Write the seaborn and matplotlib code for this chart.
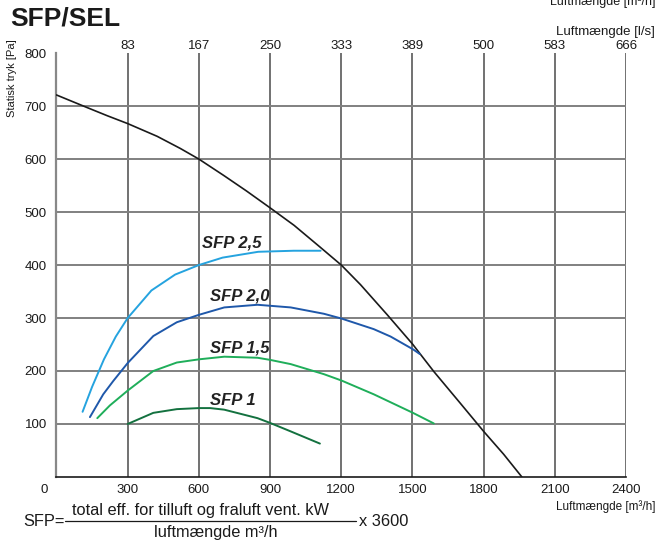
import matplotlib
matplotlib.use('Agg')
import matplotlib.pyplot as plt
from matplotlib.transforms import ScaledTranslation
import seaborn as sns

# fan curve (m3/h, Pa)
fan_x = [0, 114, 213, 300, 424, 522, 600, 705, 800, 900, 1001, 1113, 1200, 1281, 1394, 1500, 1590, 1700, 1800, 1884, 1961]
fan_y = [721, 700, 682, 667, 643, 620, 600, 569, 540, 508, 475, 433, 400, 363, 306, 251, 199, 140, 86, 43, 0]

# SFP iso-lines
sfp25_x = [110, 150, 200, 250, 300, 400, 500, 600, 700, 850, 1000, 1113]
sfp25_y = [123, 170, 222, 265, 300, 352, 382, 400, 414, 425, 427, 427]
sfp20_x = [141, 197, 239, 300, 408, 507, 600, 707, 847, 987, 1127, 1201, 1337, 1408, 1502, 1531]
sfp20_y = [113, 156, 181, 215, 266, 292, 306, 320, 325, 320, 308, 299, 279, 265, 241, 232]
sfp15_x = [172, 225, 300, 408, 507, 600, 707, 847, 900, 987, 1127, 1201, 1337, 1502, 1590]
sfp15_y = [111, 135, 163, 200, 216, 222, 227, 225, 221, 213, 194, 182, 156, 121, 101]
sfp10_x = [300, 408, 507, 600, 648, 707, 847, 900, 987, 1110]
sfp10_y = [100, 121, 128, 130, 130, 127, 111, 102, 86, 63]

sfp_labels = ['SFP 2,5', 'SFP 2,0', 'SFP 1,5', 'SFP 1']
sfp_label_x = [739, 773, 773, 744]
sfp_label_y = [441, 341, 243, 145]
sfp_colors = ['#25a3df', '#1f58aa', '#1fae5a', '#13713f']

x_ticks = [0, 300, 600, 900, 1200, 1500, 1800, 2100, 2400]
top_labels = ['83', '167', '250', '333', '389', '500', '583', '666']
y_ticks = [100, 200, 300, 400, 500, 600, 700, 800]

sns.set_theme(style='white')
plt.rcParams['font.family'] = ['Liberation Sans', 'DejaVu Sans']

fig = plt.figure(figsize=(6.59, 5.42), dpi=100)
ax = fig.add_axes([0.0857, 0.12, 0.8643, 0.782])

# grid
for x in x_ticks[1:]:
    ax.axvline(x, color='#4a4a4a', lw=1.1, zorder=1)
for y in y_ticks[:-1]:
    ax.axhline(y, color='#808080', lw=1.4, zorder=1)

sns.lineplot(x=fan_x, y=fan_y, ax=ax, color='#1a1a1a', lw=1.2, sort=False, estimator=None, zorder=3)
series = [(sfp25_x, sfp25_y), (sfp20_x, sfp20_y), (sfp15_x, sfp15_y), (sfp10_x, sfp10_y)]
for (sx, sy), c in zip(series, sfp_colors):
    sns.lineplot(x=sx, y=sy, ax=ax, color=c, lw=1.4, sort=False, estimator=None, zorder=3)

for lab, lx, ly in zip(sfp_labels, sfp_label_x, sfp_label_y):
    ax.text(lx, ly, lab, fontsize=12, fontweight='bold', fontstyle='italic',
            color='#222222', ha='center', va='center', zorder=4)

ax.set_xlim(0, 2400)
ax.set_ylim(0, 800)
ax.set_xticks(x_ticks)
ax.set_yticks(y_ticks)
ax.tick_params(axis='both', length=0, labelsize=9.5, colors='#1a1a1a')
ax.tick_params(axis='x', pad=5)
ax.tick_params(axis='y', pad=7)
# the "0" sits left of the corner
lbl0 = ax.get_xticklabels()[0]
lbl0.set_transform(lbl0.get_transform() + ScaledTranslation(-9 / 72, 0, fig.dpi_scale_trans))

for s in ['top', 'right']:
    ax.spines[s].set_visible(False)
ax.spines['left'].set_color('#888888')
ax.spines['left'].set_linewidth(1.6)
ax.spines['bottom'].set_color('#1a1a1a')
ax.spines['bottom'].set_linewidth(1.2)
ax.set_xlabel('')
ax.set_ylabel('')

top = ax.twiny()
top.set_xlim(0, 2400)
top.set_xticks(x_ticks[1:])
top.set_xticklabels(top_labels)
top.tick_params(axis='x', length=0, labelsize=9.5, pad=0.5, colors='#1a1a1a')
for s in top.spines.values():
    s.set_visible(False)

# texts
fig.text(10 / 659, 1 - 19 / 542, 'SFP/SEL', fontsize=19, fontweight='bold', ha='left', va='center', color='#1a1a1a')
fig.text(12 / 659, 1 - 78 / 542, 'Statisk tryk [Pa]', fontsize=8, rotation=90, ha='center', va='center', color='#1a1a1a')
fig.text(655 / 659, 1 - 2 / 542, 'Luftmængde [m³/h]', fontsize=9, ha='right', va='center', color='#1a1a1a')
fig.text(655 / 659, 1 - 32 / 542, 'Luftmængde [l/s]', fontsize=9.5, ha='right', va='center', color='#1a1a1a')
fig.text(655 / 659, 1 - 507 / 542, 'Luftmængde [m³/h]', fontsize=8.5, ha='right', va='center', color='#1a1a1a')

fig.text(23 / 659, 1 - 522 / 542, 'SFP=', fontsize=11.8, ha='left', va='center', color='#1a1a1a')
fig.text(200 / 659, 1 - 510 / 542, 'total eff. for tilluft og fraluft vent. kW', fontsize=11.8,
         ha='center', va='center', color='#1a1a1a')
fig.add_artist(plt.Line2D([65 / 659, 356 / 659], [1 - 521 / 542, 1 - 521 / 542], color='#1a1a1a', lw=0.9))
fig.text(359 / 659, 1 - 521 / 542, 'x 3600', fontsize=11.8, ha='left', va='center', color='#1a1a1a')
fig.text(216 / 659, 1 - 532 / 542, 'luftmængde m³/h', fontsize=11.8, ha='center', va='center', color='#1a1a1a')

fig.savefig('out.png', dpi=100)
